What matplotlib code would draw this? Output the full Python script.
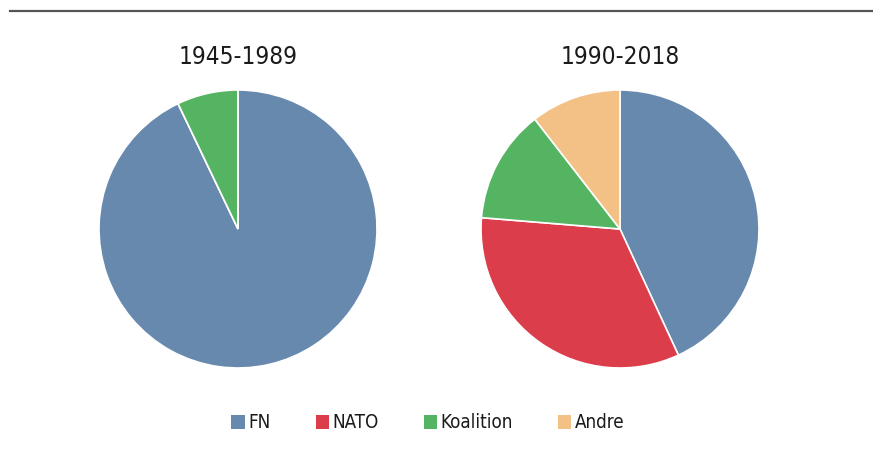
import matplotlib
matplotlib.use("Agg")
import matplotlib.pyplot as plt
from matplotlib.patches import Patch
from matplotlib.lines import Line2D

plt.rcParams['font.family'] = ['DejaVu Sans']
plt.rcParams['font.stretch'] = 'condensed'

categories = ["FN", "NATO", "Koalition", "Andre"]
titles = ["1945-1989", "1990-2018"]
values_1945_1989 = [92.9, 0.0, 7.1, 0.0]
values_1990_2018 = [43.1, 33.2, 13.2, 10.5]
colors = ["#6889AE", "#DC3D4A", "#55B462", "#F3C185"]

W, H = 873, 457
fig = plt.figure(figsize=(W/100, H/100), dpi=100)

# top rule
fig.add_artist(Line2D([10/W, 1.0], [1-11/H, 1-11/H], color="#555555", lw=1.6))

r = 139
for cx, vals, title in [(238, values_1945_1989, titles[0]), (620, values_1990_2018, titles[1])]:
    ax = fig.add_axes([(cx-r)/W, (H-229-r)/H, 2*r/W, 2*r/H])
    ax.pie(vals, colors=colors, startangle=90, counterclock=False,
           wedgeprops=dict(edgecolor="white", linewidth=1.2), radius=1.0)
    ax.set_xlim(-1, 1); ax.set_ylim(-1, 1)
    ax.set_aspect('equal')
    fig.text(cx/W, 1-57/H, title, ha="center", va="center", fontsize=17.5,
             color="#1a1a1a", fontstretch='condensed')

handles = [Patch(facecolor=col, edgecolor="none") for col in colors]
fig.legend(handles, categories, loc="center", bbox_to_anchor=(428/W, 1-423/H),
           ncol=4, frameon=False, handlelength=0.7, handleheight=0.7,
           handletextpad=0.2, columnspacing=2.4, labelcolor="#1a1a1a",
           prop=dict(size=13.5, stretch='condensed'))

fig.savefig("out.png", dpi=100, facecolor="white")
